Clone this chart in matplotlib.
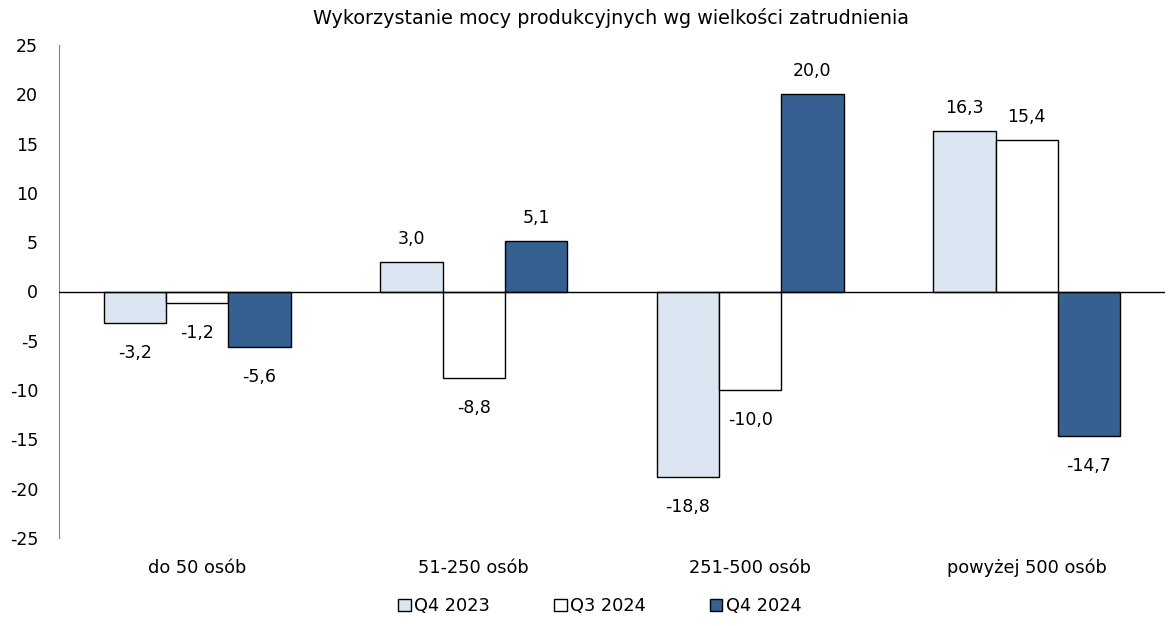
import matplotlib

matplotlib.use("Agg")

import matplotlib.pyplot as plt  # noqa: E402
import numpy as np  # noqa: E402

categories = ["do 50 osób", "51-250 osób", "251-500 osób", "powyżej 500 osób"]
series_names = ["Q4 2023", "Q3 2024", "Q4 2024"]
q4_2023 = [-3.2, 3.0, -18.8, 16.3]
q3_2024 = [-1.2, -8.8, -10.0, 15.4]
q4_2024 = [-5.6, 5.1, 20.0, -14.7]
y_ticks = [-25, -20, -15, -10, -5, 0, 5, 10, 15, 20, 25]

colors = ["#dce6f2", "#ffffff", "#376092"]

plt.rcParams["font.family"] = ["DejaVu Sans"]

fig = plt.figure(figsize=(11.73, 6.26), dpi=100)
ax = fig.add_axes([59 / 1173, 1 - 538 / 626, (1165 - 59) / 1173, (538 - 45) / 626])

x = np.arange(len(categories))
width = 0.225
for i, (vals, name, col) in enumerate(zip([q4_2023, q3_2024, q4_2024], series_names, colors)):
    pos = x + (i - 1) * width
    ax.bar(pos, vals, width, color=col, edgecolor="black", linewidth=1.0, label=name, zorder=2)
    for xp, v in zip(pos, vals):
        ax.annotate(f"{v:.1f}".replace(".", ","), (xp, v),
                    xytext=(0, 10 if v >= 0 else -15), textcoords="offset points",
                    ha="center", va="bottom" if v >= 0 else "top", fontsize=12.5)

ax.axhline(0, color="black", linewidth=1.0, zorder=3)
ax.set_xlim(-0.5, len(categories) - 0.5)
ax.set_ylim(-25, 25)
ax.set_yticks(y_ticks)
ax.set_yticklabels([str(t) for t in y_ticks], fontsize=12.5)
ax.set_xticks(x)
ax.set_xticklabels(categories, fontsize=12.8)
ax.tick_params(axis="both", length=0)
ax.tick_params(axis="y", pad=15)
ax.tick_params(axis="x", pad=15)
for side in ["top", "right", "bottom"]:
    ax.spines[side].set_visible(False)
ax.spines["left"].set_color("#808080")

fig.text(0.5 * (305 + 917) / 1173, 1 - 18 / 626, "Wykorzystanie mocy produkcyjnych wg wielkości zatrudnienia",
         ha="center", va="center", fontsize=13.8)

fig.legend(loc="center", bbox_to_anchor=(0.5 * (400 + 800) / 1173, 1 - 606 / 626), ncol=3,
           frameon=False, fontsize=12.8, handlelength=0.7, handleheight=0.7,
           handletextpad=0.2, columnspacing=3.6)

fig.savefig("out.png", dpi=100)
